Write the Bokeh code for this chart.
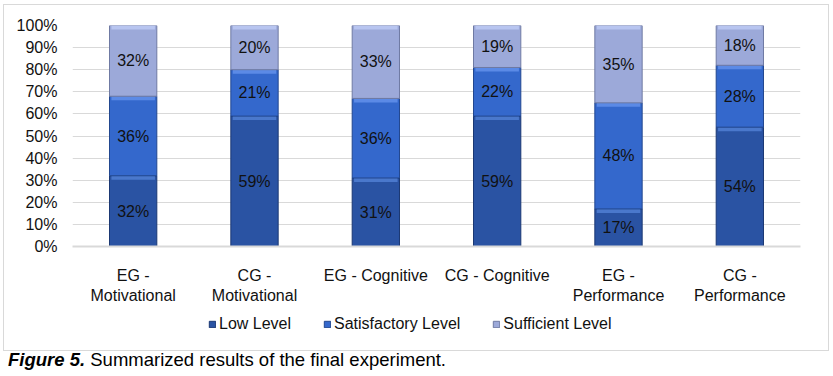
from bokeh.plotting import figure
from bokeh.models import (ColumnDataSource, Legend, LegendItem, FixedTicker, Div)
from bokeh.layouts import column
from bokeh.embed import file_html
from bokeh.resources import INLINE
from bokeh.core.properties import value

categories = ["EG -\nMotivational", "CG -\nMotivational", "EG - Cognitive",
              "CG - Cognitive", "EG -\nPerformance", "CG -\nPerformance"]
low_level = [32, 59, 31, 59, 17, 54]
satisfactory_level = [36, 21, 36, 22, 48, 28]
sufficient_level = [32, 20, 33, 19, 35, 18]
series_names = ["Low Level", "Satisfactory Level", "Sufficient Level"]
y_ticks = [0, 10, 20, 30, 40, 50, 60, 70, 80, 90, 100]

FONT = "Liberation Sans"
colors = ["#2a53a3", "#3468cc", "#9ca9d9"]
edge = ["#1b3873", "#22478f", "#6f7aa3"]
hilite = ["#4a78cc", "#5b8ae6", "#b8c5f0"]

xs = list(range(len(categories)))
series = [low_level, satisfactory_level, sufficient_level]
bottoms, tops = [], []
acc = [0] * len(xs)
for s in series:
    b = list(acc)
    t = [a + v for a, v in zip(acc, s)]
    bottoms.append(b)
    tops.append(t)
    acc = t

# ---------------- main chart ----------------
p = figure(width=824, height=301, output_backend="svg", toolbar_location=None,
           x_range=(-0.5, len(xs) - 0.5), y_range=(0, 100),
           min_border_left=68, min_border_right=28, min_border_top=20,
           min_border_bottom=58)
p.outline_line_color = None
p.background_fill_color = "white"
p.border_fill_color = "white"

# legend strip (hidden renderers sharing the bar sources)
lf = figure(width=824, height=44, output_backend="svg", toolbar_location=None,
            x_range=(-0.5, len(xs) - 0.5), y_range=(0, 100), min_border=0)
lf.axis.visible = False
lf.grid.visible = False
lf.outline_line_color = None
lf.background_fill_color = "white"
lf.border_fill_color = "white"

W = 0.39
leg_renderers = []
for i, name in enumerate(series_names):
    src = ColumnDataSource(dict(x=xs, bottom=bottoms[i], top=tops[i],
                                mid=[(b + t) / 2 for b, t in zip(bottoms[i], tops[i])],
                                lbl=[f"{v}%" for v in series[i]],
                                hl_bot=[t - 1.8 for t in tops[i]]))
    p.vbar(x="x", bottom="bottom", top="top", width=W, source=src,
           fill_color=colors[i], line_color=edge[i], line_width=1)
    p.vbar(x="x", bottom="hl_bot", top="top", width=W * 0.92, source=src,
           fill_color=hilite[i], line_color=None)
    p.text(x="x", y="mid", text="lbl", source=src, text_align="center",
           text_baseline="middle", text_font=value(FONT), text_font_size="16px",
           text_color="#111111")
    leg_renderers.append(lf.vbar(x="x", bottom="bottom", top="top", width=W,
                                 source=src, fill_color=colors[i],
                                 line_color=edge[i], line_width=1, visible=False))

p.xgrid.grid_line_color = None
p.ygrid.grid_line_color = "#d9d9d9"
p.ygrid.ticker = FixedTicker(ticks=y_ticks)

p.yaxis.ticker = FixedTicker(ticks=y_ticks)
p.yaxis.major_label_overrides = {t: f"{t}%" for t in y_ticks}
p.yaxis.axis_line_color = None
p.yaxis.major_tick_line_color = None
p.yaxis.minor_tick_line_color = None
p.yaxis.major_label_standoff = 9
p.yaxis.major_label_text_font = FONT
p.yaxis.major_label_text_font_size = "16px"
p.yaxis.major_label_text_color = "#111111"

p.xaxis.ticker = FixedTicker(ticks=xs)
p.xaxis.major_label_overrides = {x: c for x, c in zip(xs, categories)}
p.xaxis.axis_line_color = "#d9d9d9"
p.xaxis.axis_line_width = 2
p.xaxis.major_tick_line_color = None
p.xaxis.minor_tick_line_color = None
p.xaxis.major_label_standoff = 14
p.xaxis.major_label_text_font = FONT
p.xaxis.major_label_text_font_size = "16px"
p.xaxis.major_label_text_color = "#111111"

legend = Legend(items=[LegendItem(label=n, renderers=[r])
                       for n, r in zip(series_names, leg_renderers)],
                orientation="horizontal", location=(136, 17), padding=0, margin=0,
                spacing=32, glyph_width=8, glyph_height=8, label_standoff=3,
                label_text_font=FONT, label_text_font_size="16px",
                label_text_color="#111111", border_line_color=None,
                background_fill_alpha=0, inactive_fill_alpha=0,
                click_policy="none")
lf.add_layout(legend, "center")

chart = column(p, lf, spacing=0)
chart.margin = (5, 0, 0, 4)
chart.stylesheets = [":host { outline: 1px solid #d9d9d9; }"]

caption = Div(text='<b><i>Figure 5.</i></b> Summarized results of the final experiment.',
              width=800, height=22,
              styles={"font-family": "'Liberation Sans', Arial, sans-serif",
                      "font-size": "18.5px", "color": "black", "line-height": "20px"})
caption.margin = (0, 0, 0, 8)

layout = column(chart, caption, spacing=0)
open("out.html", "w").write(file_html(layout, INLINE))
